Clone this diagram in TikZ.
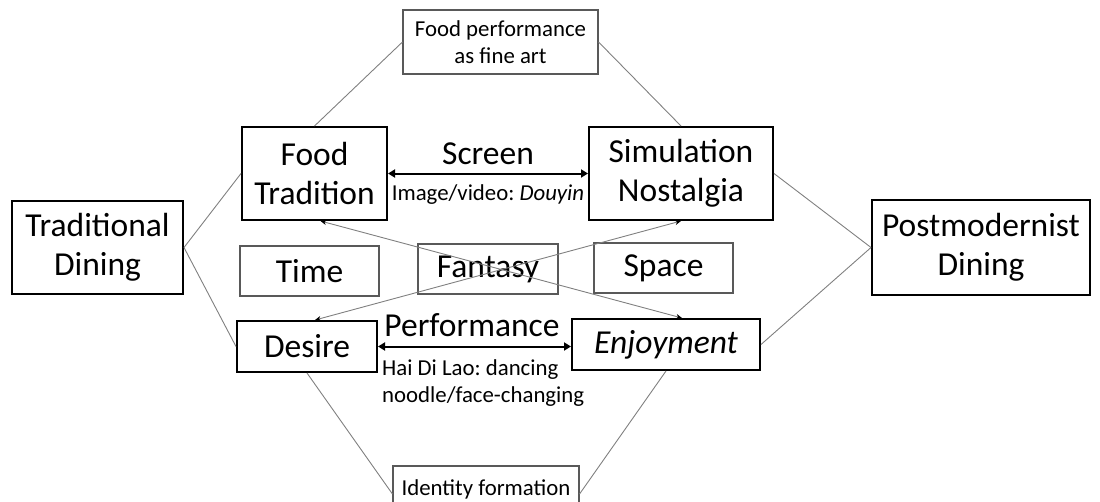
\documentclass[tikz,border=0pt]{standalone}
\usepackage{fontspec}
\setmainfont{Carlito}
\usetikzlibrary{arrows.meta}
\frenchspacing
\begin{document}
\begin{tikzpicture}[x=1pt,y=-1pt,
  big/.style={draw=black, line width=2pt, inner sep=0pt, align=center, font=\fontsize{33.5}{39}\selectfont},
  thinbig/.style={draw=black!65, line width=1.1pt, inner sep=0pt, align=center, font=\fontsize{33.5}{39}\selectfont},
  thinsmall/.style={draw=black!65, line width=1.1pt, inner sep=0pt, align=center, font=\fontsize{22.8}{26.5}\selectfont},
  bigtext/.style={font=\fontsize{33.5}{39}\selectfont, inner sep=0pt},
  smalltext/.style={font=\fontsize{22.8}{27}\selectfont, inner sep=0pt},
  link/.style={draw=black!50, line width=0.9pt},
  cross/.style={link, {Stealth[color=black,length=6pt,width=5pt]}-{Stealth[color=black,length=6pt,width=5pt]}},
  dbl/.style={draw=black, line width=2pt, {Triangle[length=7pt,width=8pt]}-{Triangle[length=7pt,width=8pt]}}
]
\useasboundingbox (0,0) rectangle (1100,501);

\node[big, minimum width=171pt, minimum height=93pt] (td) at (97.5,247.5) {Traditional\\Dining};
\node[big, minimum width=218pt, minimum height=95pt] (pd) at (981,247.5) {Postmodernist\\Dining};
\node[big, minimum width=145pt, minimum height=93pt] (ft) at (314.5,173.5) {Food\\Tradition};
\node[big, minimum width=184pt, minimum height=93pt] (sn) at (681,173.5) {Simulation\\Nostalgia};
\node[big, minimum width=140pt, minimum height=51pt] (des) at (307,346.5) {Desire};
\node[big, minimum width=188pt, minimum height=51pt] (enj) at (666,344.5) {\textit{Enjoyment}};

\node[thinbig, minimum width=139pt, minimum height=50pt] (time) at (309.5,271) {Time};
\node[thinbig, minimum width=140pt, minimum height=50pt] (fan) at (488,269) {Fantasy};
\node[thinbig, minimum width=139pt, minimum height=50pt] (space) at (663.5,268) {Space};

\node[thinsmall, minimum width=195pt, minimum height=64pt] (fp) at (500.5,42) {Food performance\\as fine art};
\node[thinsmall, minimum width=186pt, minimum height=46pt] (idf) at (486,489) {Identity formation};

\node[bigtext, anchor=base] (screen) at (488,164) {Screen};
\node[smalltext, anchor=base] (scrsub) at (488,200) {Image/video: \textit{Douyin}};
\node[bigtext, anchor=base] (perf) at (472,336) {Performance};
\node[smalltext, anchor=north west, align=left] (perfsub) at (382,359) {Hai Di Lao: dancing\\noodle/face-changing};

\draw[dbl] (ft.east) -- (sn.west);
\draw[dbl] (des.east) -- (des.east -| enj.west);

\draw[link] (td.east) -- (ft.west);
\draw[link] (ft.north) -- (fp.west);
\draw[link] (fp.east) -- (sn.north);
\draw[link] (sn.east) -- (pd.west);
\draw[link] (td.east) -- (des.west);
\draw[link] (des.south) -- ([yshift=-5pt]idf.west);
\draw[link] (enj.south) -- ([yshift=-5pt]idf.east);
\draw[link] (enj.east) -- (pd.west);

\draw[cross] ([xshift=6pt]ft.south) -- ([xshift=16pt]enj.north);
\draw[cross] ([xshift=8pt]des.north) -- (sn.south);
\end{tikzpicture}
\end{document}
